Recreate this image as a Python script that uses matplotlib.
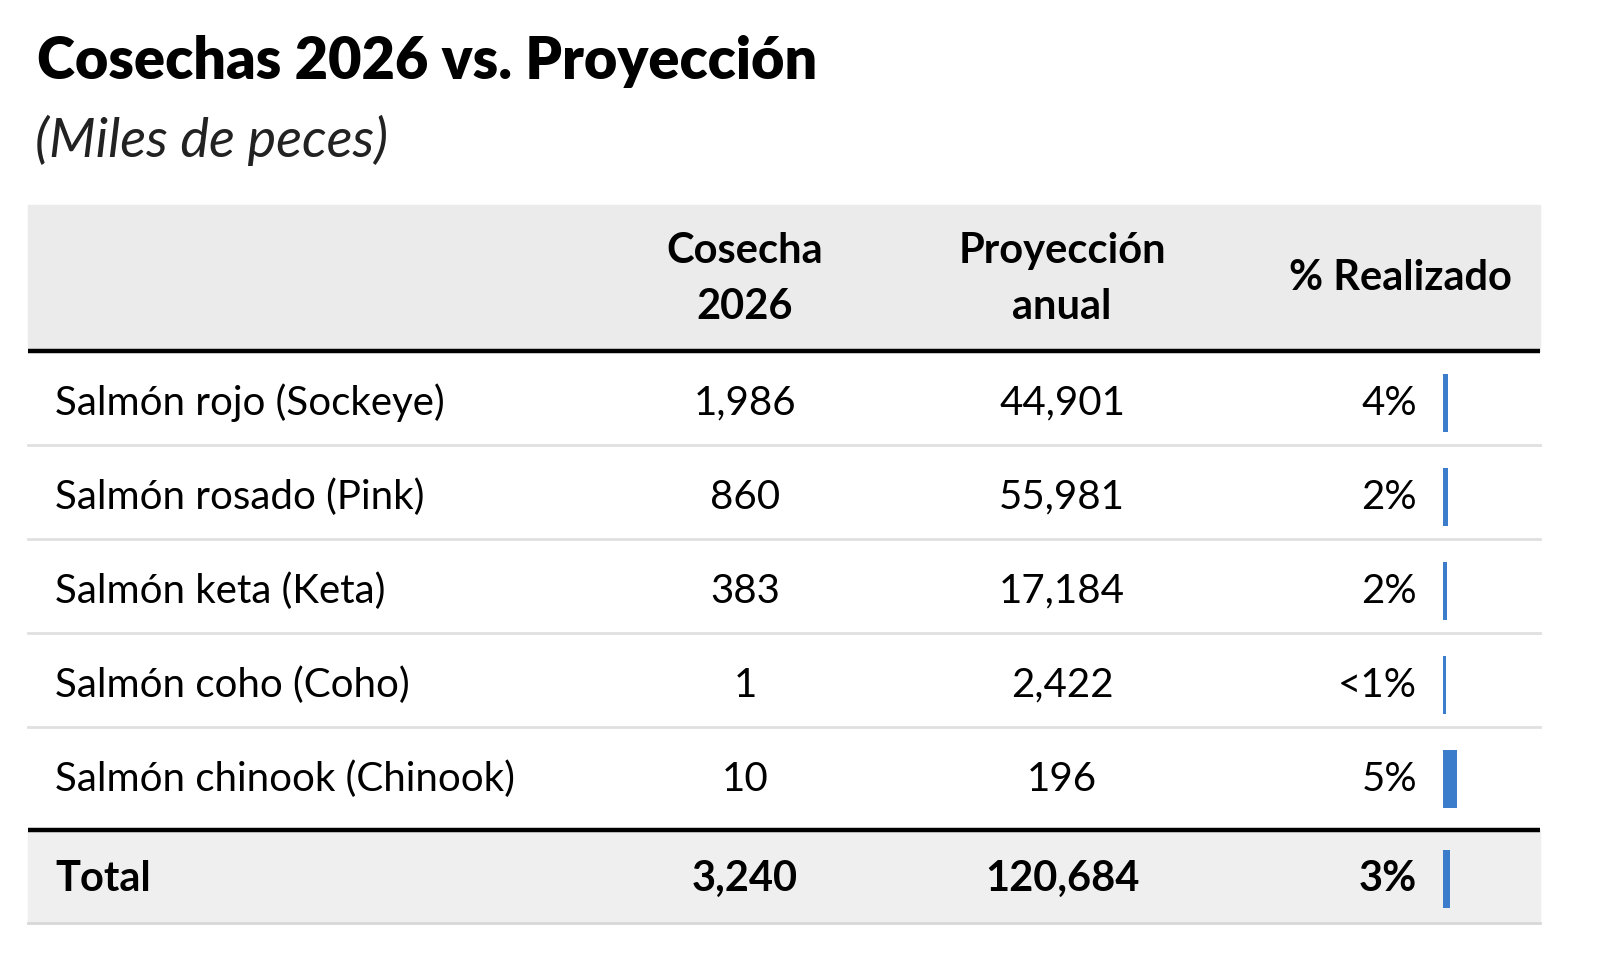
import matplotlib.pyplot as plt
from matplotlib.patches import Rectangle

plt.rcParams['font.family'] = ['Lato', 'DejaVu Sans']

# data
species = ['Salmón rojo (Sockeye)', 'Salmón rosado (Pink)', 'Salmón keta (Keta)',
           'Salmón coho (Coho)', 'Salmón chinook (Chinook)']
harvest = [1986, 860, 383, 1, 10]
projection = [44901, 55981, 17184, 2422, 196]
pct_labels = ['4%', '2%', '2%', '<1%', '5%']
bar_len = [1.8, 1.8, 1.4, 1.2, 5.0]   # bar lengths as drawn
total_harvest = 3240
total_projection = 120684
total_pct = '3%'
total_bar = 2.5
headers = ['Cosecha\n2026', 'Proyección\nanual', '% Realizado']

W, H = 1605, 980
fig = plt.figure(figsize=(W / 100, H / 100), dpi=100)
ax = fig.add_axes([0, 0, 1, 1])
ax.set_xlim(0, W)
ax.set_ylim(H, 0)
ax.axis('off')

left, right = 28, 1540
head_top, head_bot = 205, 351
row_h = 94
total_top = head_bot + row_h * len(species) + 9
total_bot = total_top + 93
col_x = [745, 1062]
pct_x = 1417
bar_x0 = 1443
px_per = 2.8
fs = 29

fig.text(37 / W, 1 - 62 / H, 'Cosechas 2026 vs. Proyección', fontsize=41.5,
         fontweight='heavy', va='center', ha='left')
fig.text(35 / W, 1 - 140 / H, '(Miles de peces)', fontsize=39,
         fontstyle='italic', va='center', ha='left', color='#222222')

# header band
ax.add_patch(Rectangle((left, head_top), right - left, head_bot - head_top,
                       color='#ebebeb', zorder=0))
for x, h in zip(col_x, headers[:2]):
    ax.text(x, 279, h, ha='center', va='center', fontsize=30, fontweight='bold',
            linespacing=1.6)
ax.text(1400, 278, headers[2], ha='center', va='center', fontsize=30, fontweight='bold')
ax.plot([left, right], [head_bot, head_bot], color='black', lw=3.2, solid_capstyle='butt')

# body rows
for i, name in enumerate(species):
    yc = head_bot + row_h * (i + 0.5) + 5
    ax.text(55, yc, name, ha='left', va='center', fontsize=fs)
    ax.text(col_x[0], yc, f'{harvest[i]:,}', ha='center', va='center', fontsize=fs)
    ax.text(col_x[1], yc, f'{projection[i]:,}', ha='center', va='center', fontsize=fs)
    ax.text(pct_x, yc, pct_labels[i], ha='right', va='center', fontsize=fs)
    ax.barh(yc, bar_len[i] * px_per, left=bar_x0, height=58, color='#3b7dca')
    if i < len(species) - 1:
        yl = head_bot + row_h * (i + 1)
        ax.plot([left, right], [yl, yl], color='#e0e0e0', lw=2)

# total row
ax.add_patch(Rectangle((left, total_top), right - left, total_bot - total_top,
                       color='#efefef', zorder=0))
ax.plot([left, right], [total_top, total_top], color='black', lw=3.2, solid_capstyle='butt')
ax.plot([left, right], [total_bot, total_bot], color='#d8d8d8', lw=2)
yt = (total_top + total_bot) / 2 + 2
ax.text(55, yt, 'Total', ha='left', va='center', fontsize=30, fontweight='bold')
ax.text(col_x[0], yt, f'{total_harvest:,}', ha='center', va='center', fontsize=30,
        fontweight='bold')
ax.text(col_x[1], yt, f'{total_projection:,}', ha='center', va='center', fontsize=30,
        fontweight='bold')
ax.text(pct_x, yt, total_pct, ha='right', va='center', fontsize=30, fontweight='bold')
ax.barh(yt, total_bar * px_per, left=bar_x0, height=58, color='#3b7dca')

fig.savefig('out.png', dpi=100, facecolor='white')
